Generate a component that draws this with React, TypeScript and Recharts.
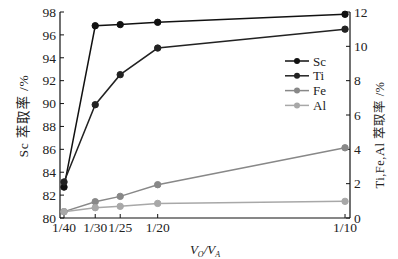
import { LineChart, Line, XAxis, YAxis } from 'recharts'

const ratioLabels = ['1/40', '1/30', '1/25', '1/20', '1/10']
const ratioValues = [1 / 40, 1 / 30, 1 / 25, 1 / 20, 1 / 10]

// Sc 用左轴，其余用右轴
const scRate = [82.7, 96.8, 96.9, 97.1, 97.8]
const tiRate = [2.1, 6.6, 8.35, 9.9, 11.0]
const feRate = [0.37, 0.95, 1.26, 1.94, 4.09]
const alRate = [0.37, 0.6, 0.68, 0.85, 0.97]

const leftTicks = [80, 82, 84, 86, 88, 90, 92, 94, 96, 98]
const rightTicks = [0, 2, 4, 6, 8, 10, 12]

const data = ratioValues.map((x, i) => ({
  x,
  Sc: scRate[i],
  Ti: tiRate[i],
  Fe: feRate[i],
  Al: alRate[i],
}))

const FONT = '"Liberation Serif", "Noto Sans CJK SC", serif'
const tickStyle = { fontSize: 13.5, fill: '#222', fontFamily: FONT }

const series = [
  { key: 'Sc', color: '#111', axis: 'left' },
  { key: 'Ti', color: '#222', axis: 'right' },
  { key: 'Fe', color: '#888', axis: 'right' },
  { key: 'Al', color: '#a8a8a8', axis: 'right' },
]

function LegendBox() {
  return (
    <svg width={70} height={62} style={{ display: 'block' }}>
      {series.map((s, i) => {
        const y = 8 + i * 14.8
        return (
          <g key={s.key}>
            <line x1={0} x2={24} y1={y} y2={y} stroke={s.color} strokeWidth={1.5} />
            <circle cx={12} cy={y} r={3} fill={s.color} />
            <text x={28} y={y + 4.5} fontSize={13} fontFamily={FONT} fill="#222">
              {s.key}
            </text>
          </g>
        )
      })}
    </svg>
  )
}

export default function App() {
  return (
    <div style={{ position: 'absolute', left: 0, top: 0, width: 398, height: 259, background: '#fff' }}>
      <LineChart
        width={398}
        height={259}
        data={data}
        margin={{ top: 12, right: 18, left: 15, bottom: 16 }}
      >
        <XAxis
          xAxisId="x"
          dataKey="x"
          type="number"
          domain={[0.02393, 0.10133]}
          ticks={ratioValues}
          tickFormatter={(v: number) => ratioLabels[ratioValues.indexOf(v)] ?? ''}
          interval={0}
          tick={tickStyle}
          tickSize={-4}
          tickMargin={8}
          axisLine={{ stroke: '#111', strokeWidth: 1.2 }}
          tickLine={{ stroke: '#111' }}
          height={25}
          label={{
            content: ({ viewBox }: any) => (
              <text
                x={viewBox.x + viewBox.width / 2}
                y={254}
                textAnchor="middle"
                fontFamily={FONT}
                fontStyle="italic"
                fontSize={13}
                fill="#222"
              >
                V<tspan fontSize={8} dy={3}>O</tspan>
                <tspan dy={-3}>/V</tspan>
                <tspan fontSize={8} dy={3}>A</tspan>
              </text>
            ),
          }}
        />
        <XAxis
          xAxisId="top"
          dataKey="x"
          type="number"
          orientation="top"
          domain={[0.02393, 0.10133]}
          tick={false}
          tickLine={false}
          height={0}
          axisLine={{ stroke: '#111', strokeWidth: 1.2 }}
        />
        <YAxis
          yAxisId="left"
          domain={[80, 98]}
          ticks={leftTicks}
          interval={0}
          width={45}
          tick={tickStyle}
          tickSize={-4}
          tickMargin={8}
          axisLine={{ stroke: '#111', strokeWidth: 1.2 }}
          tickLine={{ stroke: '#111' }}
          label={{
            content: ({ viewBox }: any) => (
              <text
                x={viewBox.x + 8}
                y={116}
                textAnchor="middle"
                transform={`rotate(-90 ${viewBox.x + 8} 116)`}
                dominantBaseline="central"
                fontFamily={FONT}
                fontSize={13.5}
                letterSpacing={0.8}
                fill="#222"
              >
                Sc 萃取率 /%
              </text>
            ),
          }}
        />
        <YAxis
          yAxisId="right"
          orientation="right"
          domain={[0, 12]}
          ticks={rightTicks}
          interval={0}
          width={30}
          tick={tickStyle}
          tickSize={-4}
          tickMargin={8}
          axisLine={{ stroke: '#111', strokeWidth: 1.2 }}
          tickLine={{ stroke: '#111' }}
          label={{
            content: ({ viewBox }: any) => (
              <text
                x={viewBox.x + 30}
                y={135}
                textAnchor="middle"
                transform={`rotate(-90 ${viewBox.x + 30} 135)`}
                dominantBaseline="central"
                fontFamily={FONT}
                fontSize={12.5}
                letterSpacing={0.5}
                fill="#222"
              >
                Ti,Fe,Al 萃取率 /%
              </text>
            ),
          }}
        />
        {series.map((s) => (
          <Line
            key={s.key}
            xAxisId="x"
            yAxisId={s.axis}
            dataKey={s.key}
            type="linear"
            stroke={s.color}
            strokeWidth={1.5}
            dot={{ r: 3.2, fill: s.color, stroke: s.color, strokeWidth: 1 }}
            activeDot={false}
            isAnimationActive={false}
          />
        ))}
      </LineChart>
      <div style={{ position: 'absolute', left: 285, top: 53 }}>
        <LegendBox />
      </div>
    </div>
  )
}
